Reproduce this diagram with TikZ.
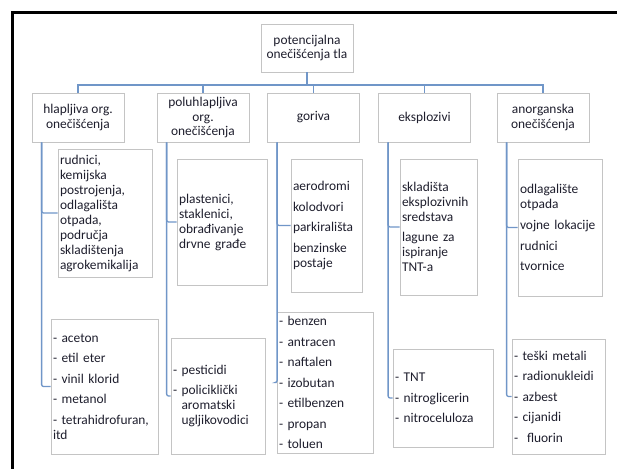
\documentclass[tikz,border=0pt]{standalone}
\usepackage{fontspec}
\setmainfont{Carlito}
\usetikzlibrary{positioning}
\definecolor{connblue}{RGB}{112,150,200}
\definecolor{boxgray}{RGB}{196,196,196}
\definecolor{txtdark}{RGB}{30,30,45}

\begin{document}
\begin{tikzpicture}[x=1pt, y=-1pt,
        topbox/.style={draw=boxgray, line width=0.8pt, align=center, minimum width=92pt, minimum height=49pt, inner sep=1pt, text=txtdark, font=\fontsize{13.4}{14.5}\selectfont},
        leafbox/.style={draw=boxgray, line width=0.8pt, align=left, inner xsep=2pt, inner ysep=0pt, text=txtdark, font=\fontsize{13.4}{15}\selectfont},
        conn/.style={draw=connblue, line width=1.3pt, rounded corners=2pt}]
        \useasboundingbox [fill=white] (0,0) rectangle (617,468);
        \draw [line width=3pt] (12,470) -- (12,13) -- (620,13);

        \node (root) [topbox, minimum height=48pt] at (307,48) {potencijalna\\onečišćenja tla};
        \coordinate (bus) at (307,85);

        \node (hlap) [topbox] at (78,117.5) {hlapljiva org.\\onečišćenja};
        \node (poluh) [topbox] at (203,117.5) {poluhlapljiva\\org.\\onečišćenja};
        \node (gor) [topbox] at (313.5,117.5) {goriva};
        \node (eksp) [topbox] at (424.5,117.5) {eksplozivi};
        \node (anorg) [topbox] at (543,117.5) {anorganska\\onečišćenja};

        \node (rud) [leafbox, text width=90pt, minimum height=128pt] at (105,213) {rudnici,\\kemijska\\postrojenja,\\odlagališta\\otpada,\\područja\\skladištenja\\agrokemikalija};
        \node (acet) [leafbox, text width=103pt, minimum height=135pt] at (104.5,386.5) {- aceton\\[5.5pt]- etil eter\\[5.5pt]- vinil klorid\\[5.5pt]- metanol\\[5.5pt]- tetrahidrofuran,\\itd};

        \node (plast) [leafbox, text width=86pt, minimum height=126pt] at (222,222) {plastenici,\\staklenici,\\obrađivanje\\drvne građe};
        \node (pest) [leafbox, text width=90pt, minimum height=116pt] at (218,396) {- pesticidi\\[5.5pt]- policiklički\\\phantom{- }aromatski\\\phantom{- }ugljikovodici};

        \node (aero) [leafbox, text width=67pt, minimum height=133pt] at (326.5,225.5) {aerodromi\\[5.5pt]kolodvori\\[5.5pt]parkirališta\\[5.5pt]benzinske\\postaje};
        \node (benz) [leafbox, text width=92pt, minimum height=141pt] at (325,382.5) {- benzen\\[5.5pt]- antracen\\[5.5pt]- naftalen\\[5.5pt]- izobutan\\[5.5pt]- etilbenzen\\[5.5pt]- propan\\[5.5pt]- toluen};

        \node (sklad) [leafbox, text width=73pt, minimum height=136pt] at (438.5,227) {skladišta\\eksplozivnih\\sredstava\\[5.5pt]lagune za\\ispiranje\\TNT-a};
        \node (tnt) [leafbox, text width=96pt, minimum height=98pt] at (443,398) {- TNT\\[5.5pt]- nitroglicerin\\[5.5pt]- nitroceluloza};

        \node (odlag) [leafbox, text width=80pt, minimum height=137pt] at (560,227.5) {odlagalište\\otpada\\[6pt]vojne lokacije\\[5.5pt]rudnici\\[5.5pt]tvornice};
        \node (teski) [leafbox, text width=89pt, minimum height=115pt] at (558.5,396.5) {- teški metali\\[5.5pt]- radionukleidi\\[5.5pt]- azbest\\[5.5pt]- cijanidi\\[5.5pt]- \ fluorin};

        \draw [conn, rounded corners=0pt] (root) -- (bus);
        \foreach \c in {hlap, poluh, gor, eksp, anorg}
            \draw [conn, rounded corners=0pt] (bus) -| (\c);

        \foreach \p/\a/\b in {hlap/rud/acet, poluh/plast/pest, gor/aero/benz, eksp/sklad/tnt, anorg/odlag/teski} {
            \draw [conn] ([xshift=10pt]\p.south west) |- (\a);
            \draw [conn] ([xshift=10pt]\p.south west) |- (\b);
        }
\end{tikzpicture}
\end{document}
